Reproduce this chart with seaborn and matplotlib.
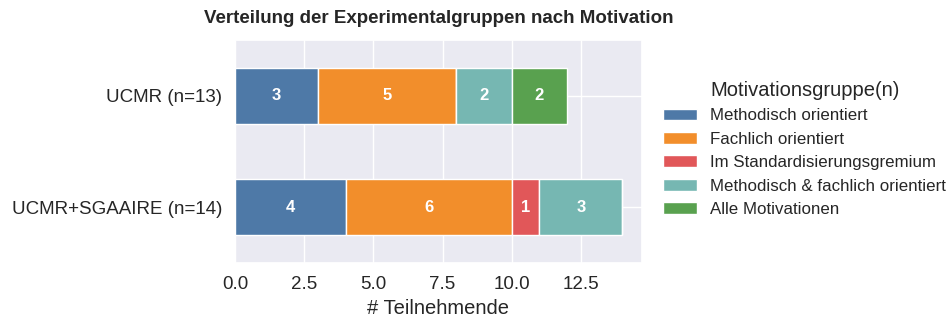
import matplotlib
matplotlib.use("Agg")
import matplotlib.pyplot as plt
from matplotlib.ticker import MultipleLocator
import seaborn as sns
import numpy as np
import pandas as pd

groups = ["UCMR (n=13)", "UCMR+SGAAIRE (n=14)"]
motivations = [
    "Methodisch orientiert",
    "Fachlich orientiert",
    "Im Standardisierungsgremium",
    "Methodisch & fachlich orientiert",
    "Alle Motivationen",
]
methodisch = [3, 4]
fachlich = [5, 6]
gremium = [0, 1]
meth_fach = [2, 3]
alle = [2, 0]
colors = ["#4e79a7", "#f28e2b", "#e15759", "#76b7b2", "#59a14f"]

sns.set_theme(style="darkgrid")
plt.rcParams["font.family"] = ["Arial", "Liberation Sans", "DejaVu Sans"]

df = pd.DataFrame(
    {m: v for m, v in zip(motivations, [methodisch, fachlich, gremium, meth_fach, alle])},
    index=groups,
)

fig, ax = plt.subplots(figsize=(9.52, 3.2), dpi=100)
fig.subplots_adjust(left=0.247, right=0.674, top=0.875, bottom=0.178)

ypos = np.arange(len(groups))
left = np.zeros(len(groups))
for m, c in zip(motivations, colors):
    vals = df[m].to_numpy(dtype=float)
    bars = ax.barh(ypos, vals, left=left, height=0.5, color=c,
                   edgecolor="white", linewidth=1, label=m)
    for rect, v in zip(bars, vals):
        if v > 0:
            ax.text(rect.get_x() + rect.get_width() / 2,
                    rect.get_y() + rect.get_height() / 2,
                    f"{int(v)}", ha="center", va="center",
                    color="white", fontweight="bold", fontsize=12)
    left += vals

ax.set_yticks(ypos)
ax.set_yticklabels(groups)
ax.set_ylim(1.5, -0.5)
ax.set_xlim(0, left.max() * 1.05)
ax.xaxis.set_major_locator(MultipleLocator(2.5))
ax.tick_params(axis="both", labelsize=13.5)
ax.set_xlabel("# Teilnehmende", fontsize=14.5)
ax.set_ylabel("")
ax.set_title("Verteilung der Experimentalgruppen nach Motivation",
             fontsize=13.5, fontweight="bold", pad=12)

leg = ax.legend(title="Motivationsgruppe(n)", loc="upper left",
                bbox_to_anchor=(1.015, 0.885), fontsize=12.2, title_fontsize=14.5,
                frameon=False, labelspacing=0.5)

fig.savefig("out.png", dpi=100)
